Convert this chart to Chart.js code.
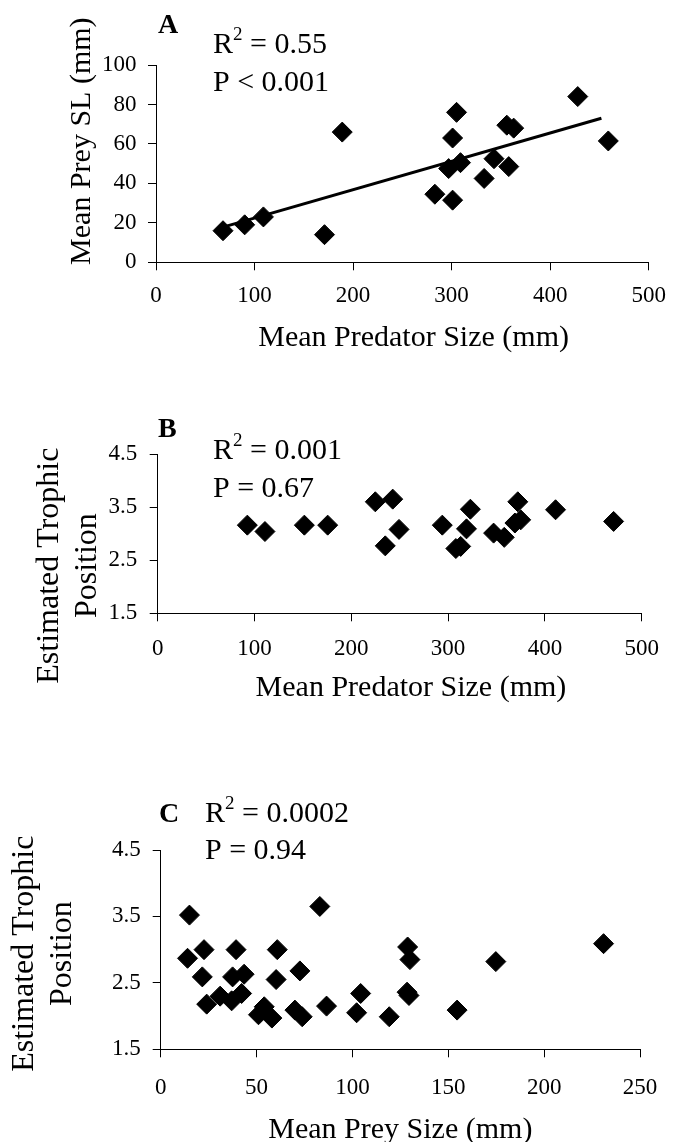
<!DOCTYPE html>
<html>
<head>
<meta charset="utf-8">
<script src="https://cdn.jsdelivr.net/npm/chart.js@4.4.1/dist/chart.umd.min.js"></script>
<style>
  html, body { margin: 0; padding: 0; background: #fff; overflow: hidden; }
  #wrap { position: relative; width: 684px; height: 1142px; }
  canvas { position: absolute; left: 0; }
</style>
</head>
<body>
<div id="wrap">
  <canvas id="chartA" width="684" height="370" style="top:0px"></canvas>
  <canvas id="chartB" width="684" height="340" style="top:370px"></canvas>
  <canvas id="chartC" width="684" height="382" style="top:760px"></canvas>
</div>
<script>
// panel A: mean predator size vs mean prey SL
const predSizeA = [68, 90, 109, 171, 189, 283, 301, 297, 301, 305, 309, 333, 343, 358, 356, 363, 428, 459];
const preySL = [16, 19, 23, 14, 66, 34.5, 31.5, 47.5, 63, 76, 50.5, 42.5, 52.5, 48.5, 69.5, 68, 84, 61.5];
const trendX = [68, 452];
const trendY = [17.8, 73];

// panel B: mean predator size vs trophic position
const predSizeB = [92.6, 110.8, 151.5, 175.6, 224.8, 242.8, 235.1, 249.3, 294, 323, 319, 313, 308, 347, 358, 372, 369, 375, 411, 471];
const trophicB = [3.16, 3.04, 3.16, 3.16, 3.60, 3.65, 2.77, 3.08, 3.16, 3.46, 3.09, 2.76, 2.72, 3.01, 2.93, 3.60, 3.20, 3.26, 3.45, 3.23];

// panel C: mean prey size vs trophic position
const preySizeC = [15, 14, 22.6, 21.7, 24, 31, 39.3, 37.5, 43.5, 37, 42.2, 51, 54, 58, 60.8, 60.2, 72.6, 70, 73.8, 83, 86.5, 104.3, 102.2, 119.2, 128.8, 130, 128.5, 129.5, 154.6, 174.8, 231];
const trophicC = [3.52, 2.87, 3.0, 2.59, 2.18, 2.30, 3.0, 2.59, 2.63, 2.23, 2.34, 2.02, 2.14, 1.97, 3.0, 2.55, 2.68, 2.09, 1.99, 3.65, 2.15, 2.34, 2.05, 1.99, 3.04, 2.85, 2.36, 2.31, 2.09, 2.82, 3.09];

const statsA = ['0.55', 'P < 0.001'];
const statsB = ['0.001', 'P = 0.67'];
const statsC = ['0.0002', 'P = 0.94'];

const FONT = '"Liberation Serif", "Times New Roman", serif';

function pts(xs, ys) {
    return xs.map((x, i) => ({ x: x, y: ys[i] }));
}

// panel letter + R^2 / P text
const annotate = {
    id: 'annotate',
    afterDraw(chart, args, o) {
        const ctx = chart.ctx;
        ctx.save();
        ctx.fillStyle = '#000';
        ctx.textBaseline = 'alphabetic';
        ctx.textAlign = 'left';
        ctx.font = 'bold 28px ' + FONT;
        ctx.fillText(o.letter, o.letterX, o.letterY);
        ctx.font = '30px ' + FONT;
        const rw = ctx.measureText('R').width;
        ctx.fillText('R', o.x, o.y);
        ctx.font = '19px ' + FONT;
        ctx.fillText('2', o.x + rw, o.y - 13);
        const sw = ctx.measureText('2').width;
        ctx.font = '30px ' + FONT;
        ctx.fillText(' = ' + o.stats[0], o.x + rw + sw, o.y);
        ctx.fillText(o.stats[1], o.x, o.y + o.gap);
        ctx.restore();
    }
};

function scale(min, max, step, title, s) {
    return {
        type: 'linear',
        min: min,
        max: max,
        offset: false,
        ticks: {
            stepSize: step,
            color: '#000',
            padding: s.tickPad,
            maxRotation: 0,
            font: { family: FONT, size: 23 },
        },
        grid: {
            display: true,
            drawOnChartArea: false,
            drawTicks: true,
            tickLength: 8,
            color: '#000',
            lineWidth: 1,
        },
        border: { display: true, color: '#000', width: 1 },
        title: {
            display: true,
            text: title,
            color: '#000',
            font: { family: FONT, size: s.fs || 30, lineHeight: s.lh },
            padding: s.titlePad,
        },
        afterFit: function (sc) {
            if (sc.isHorizontal()) {
                sc.height = s.size;
            } else {
                sc.width = s.size;
            }
        },
    };
}

function makeChart(id, datasets, xs, ys, pad, notes) {
    return new Chart(document.getElementById(id), {
        type: 'scatter',
        data: { datasets: datasets },
        options: {
            responsive: false,
            animation: false,
            devicePixelRatio: 1,
            layout: { padding: pad },
            plugins: {
                legend: { display: false },
                tooltip: { enabled: false },
                annotate: notes,
            },
            scales: { x: xs, y: ys },
        },
        plugins: [annotate],
    });
}

function diamonds(xs, ys) {
    return {
        data: pts(xs, ys),
        pointStyle: 'rectRot',
        pointRadius: 10,
        pointBackgroundColor: '#000',
        pointBorderColor: '#000',
        pointBorderWidth: 1,
        showLine: false,
    };
}

// the titles in the original are not centred on the axes, spaces nudge them
makeChart('chartA', [
    {
        data: pts(trendX, trendY),
        showLine: true,
        borderColor: '#000',
        borderWidth: 3,
        pointRadius: 0,
        order: 1,
    },
    Object.assign(diamonds(predSizeA, preySL), { order: 0 }),
],
    scale(0, 500, 100, '   Mean Predator Size (mm)', { tickPad: 11.4, lh: 0.8, titlePad: { top: 0, bottom: 20 }, size: 107.7 }),
    scale(0, 100, 20, '      Mean Prey SL (mm)', { tickPad: 11.5, lh: 1.2, titlePad: { top: 64.5, bottom: 0 }, size: 156 }),
    { top: 65, right: 35.3, left: 0, bottom: 0 },
    { letter: 'A', letterX: 158, letterY: 33, x: 213, y: 53, gap: 38, stats: statsA });

makeChart('chartB', [diamonds(predSizeB, trophicB)],
    scale(0, 500, 100, '   Mean Predator Size (mm)', { tickPad: 14.2, lh: 0.8, titlePad: { top: 0, bottom: 10 }, size: 96.7 }),
    scale(1.5, 4.5, 1, ['Estimated Trophic        ', 'Position        '], { tickPad: 12.5, fs: 32, lh: 1.17, titlePad: { top: 31, bottom: 0 }, size: 157.7 }),
    { top: 84, right: 42.3, left: 0, bottom: 0 },
    { letter: 'B', letterX: 158, letterY: 67, x: 213, y: 89, gap: 37.5, stats: statsB });

makeChart('chartC', [diamonds(preySizeC, trophicC)],
    scale(0, 250, 50, 'Mean Prey Size (mm)', { tickPad: 16.9, lh: 0.8, titlePad: { top: 0, bottom: 0 }, size: 92.7 }),
    scale(1.5, 4.5, 1, ['Estimated Trophic ', 'Position '], { tickPad: 12, fs: 32, lh: 1.19, titlePad: { top: 5.5, bottom: 0 }, size: 160.7 }),
    { top: 90, right: 44, left: 0, bottom: 0 },
    { letter: 'C', letterX: 159, letterY: 62, x: 205, y: 62, gap: 37, stats: statsC });
</script>
</body>
</html>
